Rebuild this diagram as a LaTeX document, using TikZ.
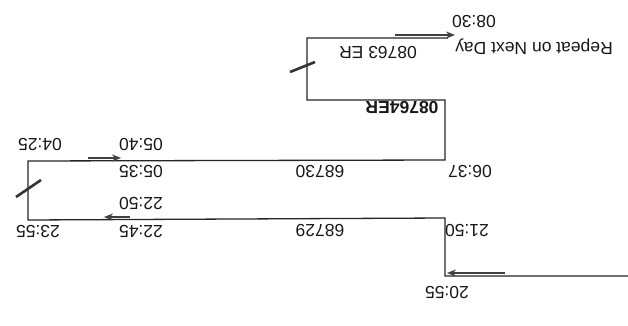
\documentclass[tikz,border=0pt]{standalone}
\usepackage{fontspec}
\setmainfont{Liberation Sans}
\usetikzlibrary{arrows.meta}

\tikzset{
  route/.style={line width=1.3pt, black!85},
  dir/.style={line width=2pt, black!75, -{Stealth[length=9pt,width=7pt]}},
  brk/.style={line width=2.6pt, black!80},
  lbl/.style={rotate=180, inner sep=0pt, font=\fontsize{17.5}{20}\selectfont, black!90},
}

\begin{document}
\begin{tikzpicture}[x=1pt,y=-1pt]
  \useasboundingbox[fill=white] (0,0) rectangle (628,326);

  % route corners
  \coordinate (in) at (628,276);
  \coordinate (a1) at (445,276);
  \coordinate (a2) at (445,218);
  \coordinate (b1) at (28,220);
  \coordinate (b2) at (28,161);
  \coordinate (c1) at (445,160);
  \coordinate (c2) at (445,100);
  \coordinate (d1) at (307,100);
  \coordinate (d2) at (307,38);
  \coordinate (out) at (448,38);

  \draw[route] (in) -- (a1) -- (a2) -- (b1) -- (b2) -- (c1) -- (c2) -- (d1) -- (d2) -- (out);

  % direction arrows
  \coordinate (r1) at (505,273);
  \coordinate (r1e) at (447,273);
  \draw[dir] (r1) -- (r1e);
  \coordinate (r2) at (130,217);
  \coordinate (r2e) at (104,217);
  \draw[dir] (r2) -- (r2e);
  \coordinate (r3) at (88,158);
  \coordinate (r3e) at (121,158);
  \draw[dir] (r3) -- (r3e);
  \coordinate (r4) at (395,35);
  \coordinate (r4e) at (455,35);
  \draw[dir] (r4) -- (r4e);

  % day breaks
  \coordinate (k1) at (16,197);
  \coordinate (k1e) at (41,180);
  \draw[brk] (k1) -- (k1e);
  \coordinate (k2) at (290,72);
  \coordinate (k2e) at (315,62);
  \draw[brk] (k2) -- (k2e);

  % times and trains
  \node[lbl] (t2055) at (447,293) {20:55};
  \node[lbl] (t2150) at (467,231) {21:50};
  \node[lbl] (n68729) at (320,231) {68729};
  \node[lbl] (t2245) at (141,232) {22:45};
  \node[lbl] (t2250) at (141,204) {22:50};
  \node[lbl] (t2355) at (38,232) {23:55};
  \node[lbl] (t0425) at (40,145) {04:25};
  \node[lbl] (t0535) at (141,172) {05:35};
  \node[lbl] (t0540) at (141,145) {05:40};
  \node[lbl] (n68730) at (320,172) {68730};
  \node[lbl] (t0637) at (470,172) {06:37};
  \node[lbl, font=\fontsize{17.5}{20}\selectfont\bfseries] (n08764) at (402,108) {08764ER};
  \node[lbl] (n08763) at (378,53) {08763 ER};
  \node[lbl] (t0830) at (474,22) {08:30};
  \node[lbl] (rep) at (534,47) {Repeat on Next Day};
\end{tikzpicture}
\end{document}
